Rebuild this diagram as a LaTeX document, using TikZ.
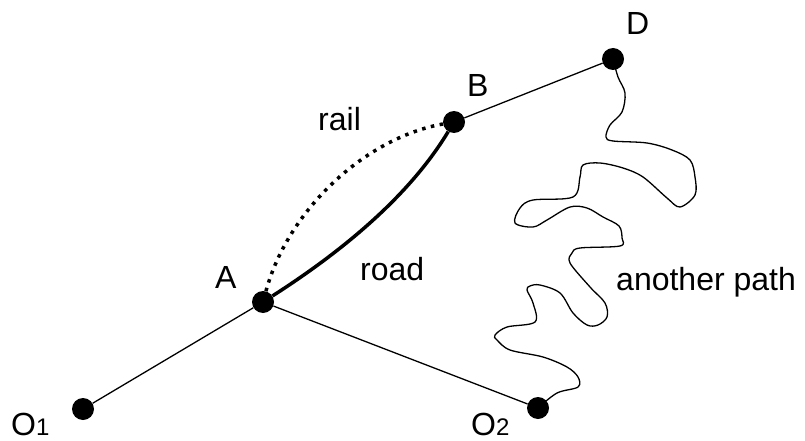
\documentclass[tikz,border=0pt]{standalone}
\usepackage{fontspec}
\setmainfont{Liberation Sans}
\begin{document}
\begin{tikzpicture}[x=1pt,y=-1pt,
  dot/.style={circle,fill=black,draw=none,inner sep=0pt,minimum size=22pt},
  lbl/.style={anchor=base west,inner sep=0pt,font=\fontsize{32}{36}\selectfont},
  thinline/.style={line width=1.3pt},
  roadline/.style={line width=3.5pt},
  railline/.style={line width=3.5pt,dash pattern=on 3.5pt off 5.5pt},
  wiggle/.style={line width=1.3pt,line join=round}]
\useasboundingbox (0,0) rectangle (805,441);
% points
\node[dot] (o1) at (83,409) {};
\node[dot] (a) at (263,302) {};
\node[dot] (b) at (454,122) {};
\node[dot] (d) at (613,59) {};
\node[dot] (o2) at (538,408) {};
% connectors
\draw[thinline] (o1) -- (a);
\draw[thinline] (a) -- (o2);
\draw[thinline] (b) -- (d);
\draw[roadline] (a) .. controls (352,245) and (413,190) .. (b);
\draw[railline] (a) .. controls (288,210) and (365,138) .. (b);
\draw[wiggle] plot[smooth,tension=0.55] coordinates {
 (d) (618,77) (625,93) (622,112) (610,125) (606,137) (613,141) (647,143)
 (672,150) (690,160) (695,177) (695,195) (680,207) (667,198) (643,177)
 (623,168) (600,163) (583,165) (580,177) (573,197) (533,200) (520,208)
 (515,223) (533,227) (547,220) (570,207) (587,208) (603,217) (619,226)
 (622,238) (620,246) (580,248) (572,253) (570,263) (590,287) (605,303)
 (607,317) (598,325) (587,325) (573,313) (560,293) (540,285) (530,286)
 (527,290) (533,303) (535,322) (507,327) (495,335) (497,340) (510,350)
 (543,357) (567,367) (578,377) (578,387) (557,393) (o2)};
% labels
\node[lbl] (la) at (215,288) {A};
\node[lbl] (lb) at (467,97) {B};
\node[lbl] (ld) at (626,35) {D};
\node[lbl] (lrail) at (318,130) {rail};
\node[lbl] (lroad) at (360,280) {road};
\node[lbl] (lpath) at (616,290) {another path};
\node[lbl] (lo1) at (11,435) {O{\fontsize{24}{28}\selectfont 1}};
\node[lbl] (lo2) at (471,435) {O{\fontsize{24}{28}\selectfont 2}};
\end{tikzpicture}
\end{document}
